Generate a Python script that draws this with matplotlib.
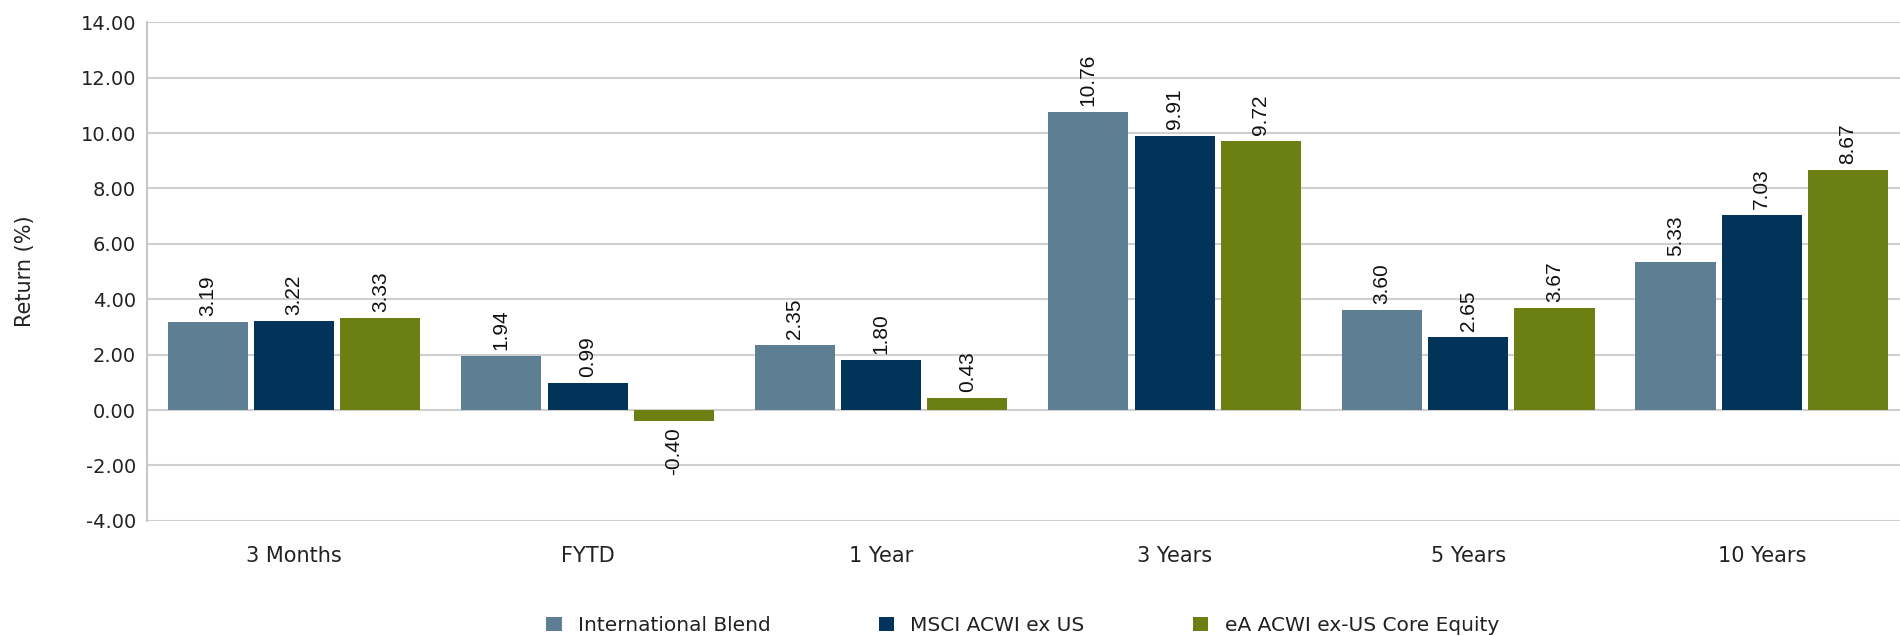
import matplotlib.pyplot as plt
import numpy as np

# data
periods = ["3 Months", "FYTD", "1 Year", "3 Years", "5 Years", "10 Years"]
intl_blend = [3.19, 1.94, 2.35, 10.76, 3.60, 5.33]
msci_acwi = [3.22, 0.99, 1.80, 9.91, 2.65, 7.03]
ea_core = [3.33, -0.40, 0.43, 9.72, 3.67, 8.67]
series_names = ["International Blend", "MSCI ACWI ex US", "eA ACWI ex-US Core Equity"]
colors = ["#5E7F93", "#02345A", "#6B7F13"]

plt.rcParams['font.family'] = ['DejaVu Sans']
label_font = ['Liberation Sans', 'DejaVu Sans']

fig = plt.figure(figsize=(19, 6.36), dpi=100)
ax = fig.add_axes([0.0775, 0.181, 0.927, 0.784])

x = np.arange(len(periods))
width = 0.273
step = 0.294
for i, (vals, name, col) in enumerate(zip([intl_blend, msci_acwi, ea_core], series_names, colors)):
    bars = ax.bar(x + (i - 1) * step, vals, width, color=col, label=name, zorder=3)
    for b, v in zip(bars, vals):
        cx = b.get_x() + b.get_width() / 2
        if v >= 0:
            ax.text(cx, v + 0.22, f"{v:.2f}", rotation=90, ha='center', va='bottom',
                    fontsize=15, family=label_font, color='#111111')
        else:
            ax.text(cx, v - 0.22, f"{v:.2f}", rotation=90, ha='center', va='top',
                    fontsize=15, family=label_font, color='#111111')

ax.set_ylim(-4, 14)
ax.set_yticks(np.arange(-4, 14.1, 2))
ax.set_yticklabels([f"{t:.2f}" for t in np.arange(-4, 14.1, 2)])
ax.set_xlim(-0.5, 5.5)
ax.set_xticks(x)
ax.set_xticklabels(periods)
ax.tick_params(axis='both', length=0, labelsize=14, colors='#222222')
ax.tick_params(axis='x', pad=18, labelsize=15)
ax.tick_params(axis='y', pad=8)
ax.grid(axis='y', color='#D0D0D0', linewidth=1.5, zorder=0)
for s in ['top', 'right', 'bottom']:
    ax.spines[s].set_visible(False)
ax.spines['left'].set_color('#C8C8C8')
ax.spines['left'].set_linewidth(1.5)
ax.set_ylabel("Return (%)", fontsize=15, color='#222222', labelpad=33)

ax.legend(loc='center', bbox_to_anchor=(0.497, -0.21), ncol=3, frameon=False,
          fontsize=14.5, handlelength=0.75, handleheight=0.75, handletextpad=0.8,
          columnspacing=5.4, labelcolor='#222222')

fig.savefig("out.png", dpi=100)
